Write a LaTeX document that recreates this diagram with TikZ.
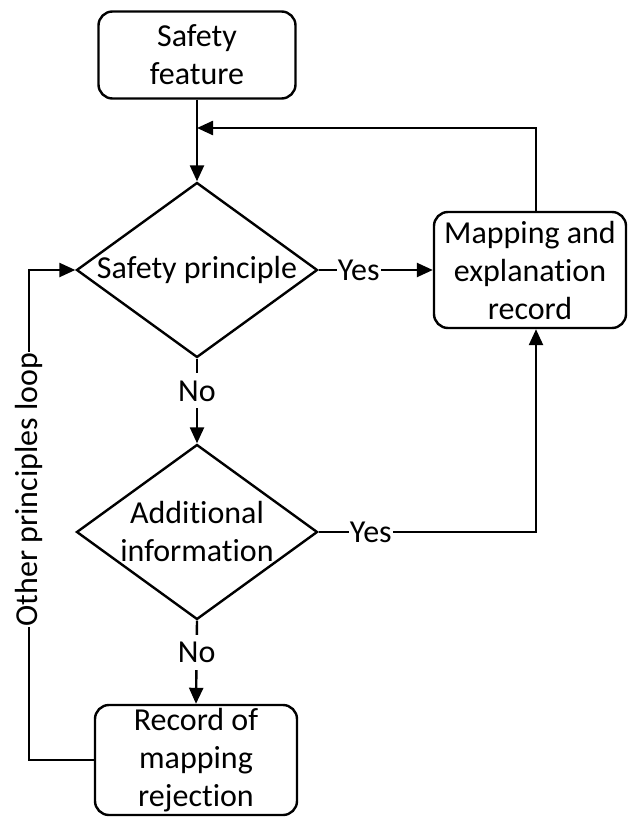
\documentclass[tikz,border=0pt]{standalone}
\usepackage{fontspec}
\setmainfont{Carlito}[Ligatures = NoCommon]
\usetikzlibrary{shapes.geometric, arrows.meta}

\begin{document}
\begin{tikzpicture}[x = 1pt, y = -1pt, line width = 2.4pt,
        box/.style = {draw, rounded corners = 14pt, align = center, inner sep = 0pt},
        decision/.style = {draw, diamond, aspect = 1.37, align = center, inner sep = 0pt, minimum width = 241pt, minimum height = 175pt},
        arr/.style = {-{Triangle[length = 16pt, width = 14pt]}},
        lbl/.style = {fill = white, inner xsep = 1pt, inner ysep = 7pt}]
    \useasboundingbox (0,0) rectangle (627,818);
    \begin{scope}[every node/.append style = {font = \fontsize{32}{38}\selectfont}]
        \node[box, minimum width = 197pt, minimum height = 87pt] (feature) at (197,55) {Safety\\feature};
        \node[decision] (sp) at (197,270) {Safety principle};
        \node[box, minimum width = 192pt, minimum height = 116pt] (map) at (530,270) {Mapping and\\explanation\\record};
        \node[decision] (ai) at (197,532) {Additional\\information};
        \node[box, minimum width = 202pt, minimum height = 110pt] (rec) at (196,760) {Record of\\mapping\\rejection};
        \coordinate (join) at (197,128);
        \coordinate (maptop) at ([xshift = 6pt]map.north);
        \coordinate (mapbot) at ([xshift = 6pt]map.south);

        \draw[arr] (feature) -- (sp);
        \draw[arr] (maptop) |- (join);
        \draw[arr] (sp.east) -- node[lbl, pos = 0.35] {Yes} (map.west);
        \draw[arr] (sp.south) -- node[lbl, pos = 0.38] {No} (ai.north);
        \draw[arr] (ai.east) -- node[lbl, pos = 0.24] {Yes} (ai.east -| mapbot) -- (mapbot);
        \draw[arr] (ai.south) -- node[lbl, pos = 0.38] {No} (rec.north);
        \draw[arr] (rec.west) -- ++(-65,0) |- node[lbl, pos = 0.276, rotate = 90] {Other principles loop} (sp.west);
    \end{scope}
\end{tikzpicture}
\end{document}
